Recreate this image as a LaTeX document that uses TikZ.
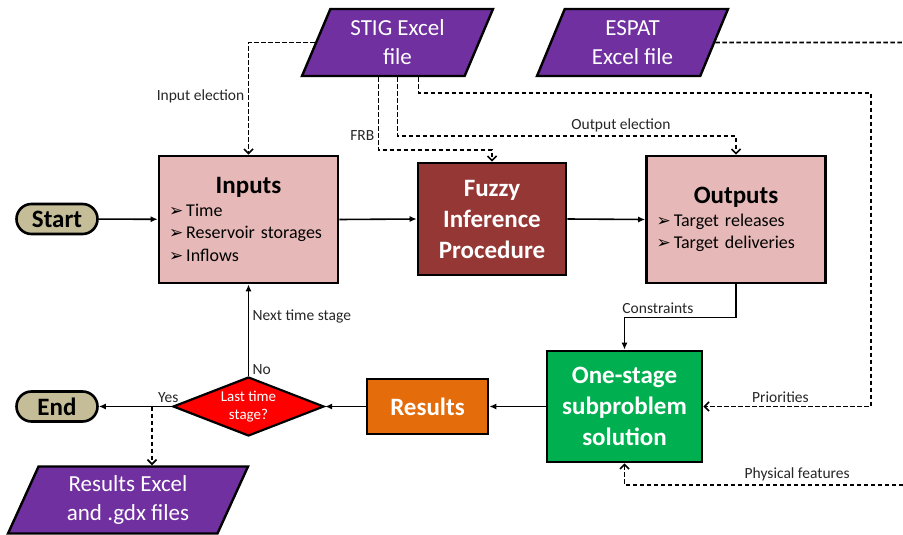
\documentclass[tikz,border=0pt]{standalone}
\usepackage{fontspec}
\setmainfont{Carlito}
\newfontfamily\dingfont{DejaVu Sans}
\usetikzlibrary{shapes.geometric,shapes.misc,arrows.meta}
\definecolor{inpink}{HTML}{E6B9B8}
\definecolor{fuzzred}{HTML}{953735}
\definecolor{filepurple}{HTML}{7030A0}
\definecolor{solvegreen}{HTML}{00B050}
\definecolor{resorange}{HTML}{E46C0A}
\definecolor{termtan}{HTML}{C4BD97}
\newcommand{\itm}{{\dingfont\fontsize{17}{17}\selectfont ➢}\,}

\tikzset{
  filebox/.style={trapezium, trapezium left angle=60, trapezium right angle=120,
    trapezium stretches body, draw, line width=2.4pt, fill=filepurple, text=white,
    align=center, minimum height=67pt, inner sep=2pt, font=\fontsize{23}{29}\selectfont},
  termbox/.style={rounded rectangle, draw, line width=2.6pt, fill=termtan,
    minimum width=81pt, minimum height=30pt, inner sep=0pt,
    font=\bfseries\fontsize{25}{30}\selectfont},
  listbox/.style={rectangle, draw, line width=2.6pt, fill=inpink, minimum width=179pt,
    minimum height=127pt, text width=159pt, inner sep=10pt, align=left,
    font=\fontsize{18}{22.5}\selectfont},
  procbox/.style={rectangle, draw, line width=2.6pt, text=white, align=center,
    inner sep=0pt, font=\bfseries\fontsize{25}{31}\selectfont},
  decbox/.style={diamond, draw, line width=2.2pt, fill=red, text=white, align=center,
    minimum width=151pt, minimum height=59pt, shape aspect=2.56, inner sep=0pt,
    font=\fontsize{15}{18}\selectfont},
  arr/.style={line width=1.6pt, -{Latex[length=7pt,width=6pt]}},
  dline/.style={line width=1.7pt, dash pattern=on 4.5pt off 2.5pt},
  darr/.style={dline, -{Straight Barb[length=4.5pt,width=9pt]}},
  lbl/.style={font=\fontsize{15.5}{18}\selectfont, text=black!85}
}

\begin{document}
\begin{tikzpicture}[x=1pt, y=-1pt]
  \useasboundingbox (0,0) rectangle (903,535);

  % Файли
  \node[filebox, minimum width=191pt] (stig) at (397.5,42.5) {STIG Excel\\file};
  \node[filebox, minimum width=191pt] (espat) at (632.5,42.5) {ESPAT\\Excel file};
  \node[filebox, minimum width=240pt] (resfile) at (128,500) {Results Excel\\and .gdx files};

  % Початок і кінець
  \node[termbox] (start) at (57,219) {Start};
  \node[termbox] (stop) at (57,406.5) {End};

  % Основні блоки
  \node[listbox] (inputs) at (248.5,219.5)
    {{\centering\bfseries\fontsize{25}{30}\selectfont Inputs\par}
     \itm Time\\\itm Reservoir storages\\\itm Inflows};
  \node[procbox, fill=fuzzred, minimum width=148pt, minimum height=112pt] (fuzzy)
    at (492,219) {Fuzzy\\Inference\\Procedure};
  \node[listbox] (outputs) at (736,219.5)
    {{\centering\bfseries\fontsize{25}{30}\selectfont Outputs\par}
     \itm Target releases\\\itm Target deliveries};
  \node[procbox, fill=solvegreen, minimum width=155pt, minimum height=111pt] (solve)
    at (624.5,406.5) {One-stage\\subproblem\\solution};
  \node[procbox, fill=resorange, minimum width=121pt, minimum height=55pt] (results)
    at (427.5,406.5) {Results};
  \node[decbox] (last) at (248.5,406.5) {Last time\\stage?};

  % Суцільні стрілки
  \draw[arr] (start) -- (inputs);
  \draw[arr] (inputs.east) -- (fuzzy.west);
  \draw[arr] (fuzzy.east) -- (outputs.west);
  \draw[arr] (outputs.south) -- ++(0,33) -| (solve.north)
    node[lbl, pos=0.35, above] {Constraints};
  \draw[arr] (solve.west) -- (results.east);
  \draw[arr] (results.west) -- (last.east);
  \draw[arr] (last.west) -- (stop.east) node[lbl, pos=0.05, above] {Yes};
  \draw[arr] (last.north) -- (inputs.south)
    node[lbl, pos=0.07, right] {No}
    node[lbl, pos=0.65, right] {Next time stage};

  % Пунктирні зв'язки з файлами
  \coordinate (rail) at (871,93);
  \coordinate (espatout) at (903,42.5);
  \coordinate (physin) at (903,485);
  \coordinate (split) at (152,406.5);
  \draw[darr] (stig.west) -| (inputs.north) node[lbl, pos=0.74, left] {Input election};
  \draw[darr] ([xshift=-19pt]stig.south) -- node[lbl, pos=0.8, left] {FRB} ++(0,73)
    -| (fuzzy.north);
  \draw[darr] (stig.south) -- ++(0,59) -| (outputs.north)
    node[lbl, pos=0.33, above] {Output election};
  \draw[darr] ([xshift=21pt]stig.south) |- (rail) |- (solve.east)
    node[lbl, pos=0.77, above] {Priorities};
  \draw[dline] (espat.east) -- (espatout);
  \draw[darr] (physin) -| (solve.south) node[lbl, pos=0.19, above] {Physical features};
  \draw[darr] (split) -- (split |- resfile.north);
\end{tikzpicture}
\end{document}
